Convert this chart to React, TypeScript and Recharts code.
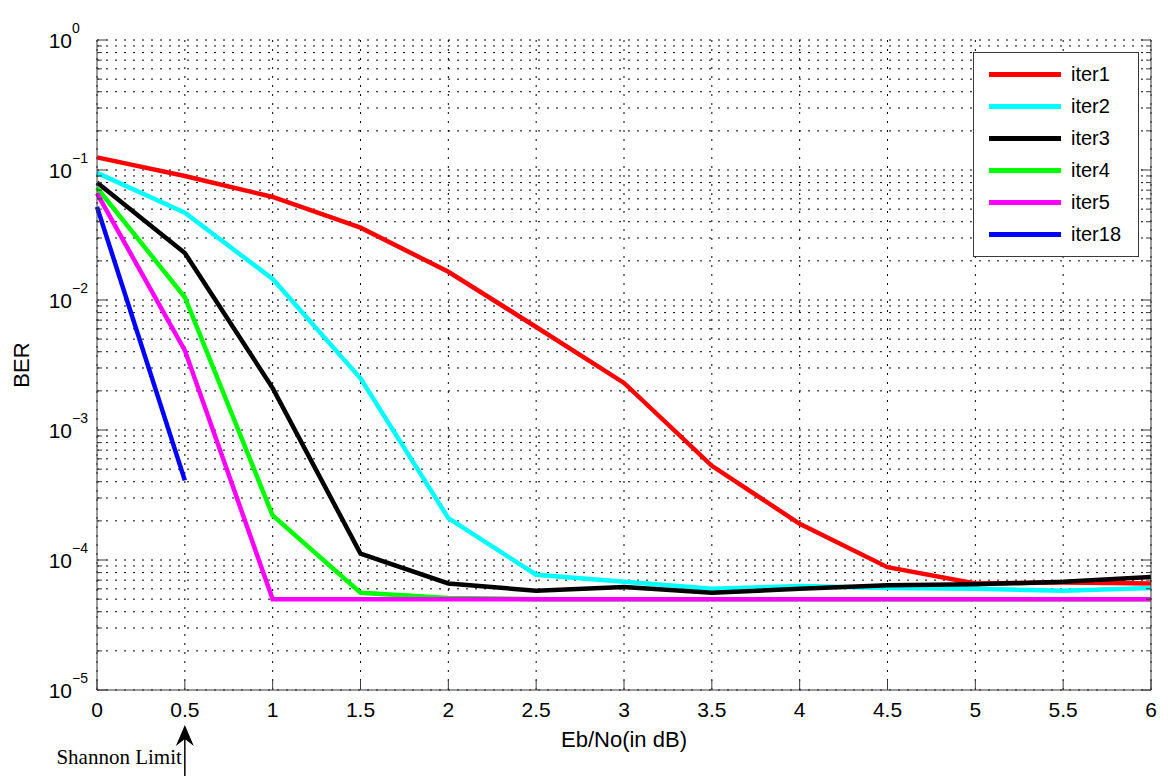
import { CartesianGrid, Legend, Line, LineChart, XAxis, YAxis } from "recharts";

// Eb/No values (dB) on the x axis
const ebNo = [0, 0.5, 1, 1.5, 2, 2.5, 3, 3.5, 4, 4.5, 5, 5.5, 6];

// BER per decoder iteration
const iter1 = [0.125, 0.09, 0.062, 0.036, 0.0165, 0.0062, 0.0023, 0.00053, 0.00019, 0.000088, 0.000066, 0.000067, 0.000066];
const iter2 = [0.095, 0.047, 0.0145, 0.0025, 0.00021, 0.000077, 0.000068, 0.00006, 0.000063, 0.000061, 0.00006, 0.000058, 0.000061];
const iter3 = [0.08, 0.023, 0.0021, 0.000112, 0.000066, 0.000058, 0.000062, 0.000056, 0.00006, 0.000064, 0.000065, 0.000068, 0.000074];
const iter4 = [0.073, 0.0105, 0.00022, 0.000056, 0.000051, 0.00005, 0.00005, 0.00005, 0.00005, 0.00005, 0.00005, 0.00005, 0.00005];
const iter5 = [0.066, 0.0041, 0.00005, 0.00005, 0.00005, 0.00005, 0.00005, 0.00005, 0.00005, 0.00005, 0.00005, 0.00005, 0.00005];
const iter18 = [0.052, 0.00041];

const xTicks = [0, 0.5, 1, 1.5, 2, 2.5, 3, 3.5, 4, 4.5, 5, 5.5, 6];
const decades = [1e-5, 1e-4, 1e-3, 1e-2, 1e-1, 1];
const mantissas = [1, 2, 3, 4, 5, 6, 7, 8, 9];

const series = [
  { key: "iter1", values: iter1, color: "#ff0000" },
  { key: "iter2", values: iter2, color: "#00ffff" },
  { key: "iter3", values: iter3, color: "#000000" },
  { key: "iter4", values: iter4, color: "#00ff00" },
  { key: "iter5", values: iter5, color: "#ff00ff" },
  { key: "iter18", values: iter18, color: "#0000ff" },
];

const yTicks = [
  ...decades.slice(0, -1).flatMap((d) => mantissas.map((m) => m * d)),
  1,
];

const data = ebNo.map((x, i) => {
  const row: Record<string, number | undefined> = { x };
  series.forEach((s) => {
    row[s.key] = s.values[i];
  });
  return row;
});

const FONT = '"Liberation Sans", Arial, Helvetica, sans-serif';
const AXIS = "#3a3a3a";

function isDecade(v: number) {
  const l = Math.log10(v);
  return Math.abs(l - Math.round(l)) < 1e-6;
}

function LeftTick(props: any) {
  const { x, y, payload } = props;
  const v = payload.value as number;
  const major = isDecade(v);
  const exp = Math.round(Math.log10(v));
  return (
    <g>
      <line x1={x} y1={y} x2={x + (major ? 10 : 5)} y2={y} stroke={AXIS} />
      {major && (
        <g fontFamily={FONT} fill="#000">
          <text x={x - 25} y={y} textAnchor="end" dominantBaseline="central" fontSize={21}>
            10
          </text>
          <text x={x - 25} y={y - 12} dominantBaseline="central" fontSize={14}>
            {exp === 0 ? "0" : "\u2212" + -exp}
          </text>
        </g>
      )}
    </g>
  );
}

function RightTick(props: any) {
  const { x, y, payload } = props;
  const major = isDecade(payload.value);
  return <line x1={x} y1={y} x2={x - (major ? 10 : 5)} y2={y} stroke={AXIS} />;
}

function TopTick(props: any) {
  const { x, y } = props;
  return <line x1={x} y1={y} x2={x} y2={y + 10} stroke={AXIS} />;
}

function BottomTick(props: any) {
  const { x, y, payload } = props;
  const v = payload.value as number;
  return (
    <g>
      <line x1={x} y1={y} x2={x} y2={y - 10} stroke={AXIS} />
      <text
        x={x}
        y={y + 19}
        textAnchor="middle"
        dominantBaseline="central"
        fontSize={21}
        fontFamily={FONT}
        fill="#000"
      >
        {String(v)}
      </text>
      {v === 0.5 && (
        <g>
          <line x1={x} y1={y + 45} x2={x} y2={y + 90} stroke="#000" strokeWidth={1.5} />
          <polygon
            points={`${x},${y + 35} ${x - 9},${y + 56} ${x},${y + 49} ${x + 9},${y + 56}`}
            fill="#000"
          />
          <text
            x={x - 3}
            y={y + 67}
            textAnchor="end"
            dominantBaseline="central"
            fontSize={21}
            fontFamily='"Liberation Serif", "Times New Roman", serif'
            fill="#000"
          >
            Shannon Limit
          </text>
        </g>
      )}
    </g>
  );
}

function LegendBox(props: any) {
  const order = series.map((s) => s.key);
  const items = [...((props.payload || []) as any[])].sort(
    (a, b) => order.indexOf(a.value) - order.indexOf(b.value)
  );
  return (
    <div
      style={{
        width: 164,
        height: 198,
        border: `1px solid ${AXIS}`,
        background: "#fff",
        paddingTop: 5,
        boxSizing: "content-box",
        fontFamily: FONT,
      }}
    >
      {items.map((it) => (
        <div key={it.value} style={{ display: "flex", alignItems: "center", height: 32 }}>
          <div style={{ width: 72, height: 5, background: it.color, marginLeft: 15, marginRight: 10 }} />
          <span style={{ fontSize: 20, color: "#000", lineHeight: "20px" }}>{it.value}</span>
        </div>
      ))}
    </div>
  );
}

export default function App() {
  return (
    <div style={{ position: "absolute", left: 0, top: 0, background: "#fff" }}>
      <LineChart
        width={1169}
        height={776}
        data={data}
        margin={{ top: 40, right: 17, bottom: 26, left: 7 }}
      >
        <CartesianGrid stroke="#000" strokeDasharray="2 7" strokeWidth={1} />
        <XAxis
          dataKey="x"
          type="number"
          domain={[0, 6]}
          ticks={xTicks}
          interval={0}
          height={60}
          tickSize={0}
          tickMargin={0}
          tickLine={false}
          axisLine={{ stroke: AXIS }}
          tick={<BottomTick />}
          label={{
            value: "Eb/No(in dB)",
            position: "insideBottom",
            offset: 3,
            fontSize: 22,
            fill: "#000",
            fontFamily: FONT,
          }}
        />
        <XAxis
          xAxisId="top"
          dataKey="x"
          orientation="top"
          type="number"
          domain={[0, 6]}
          ticks={xTicks}
          interval={0}
          height={0}
          tickSize={0}
          tickMargin={0}
          tickLine={false}
          axisLine={{ stroke: AXIS }}
          tick={<TopTick />}
          label={{
            value: "Turbo Codes Performance",
            position: "top",
            offset: 15,
            fontSize: 21,
            fill: "#000",
            fontFamily: FONT,
            letterSpacing: 1,
          }}
        />
        <YAxis
          type="number"
          scale="log"
          domain={[1e-5, 1]}
          allowDataOverflow
          ticks={yTicks}
          interval={0}
          width={90}
          tickSize={0}
          tickMargin={0}
          tickLine={false}
          axisLine={{ stroke: AXIS }}
          tick={<LeftTick />}
          label={{
            value: "BER",
            angle: -90,
            position: "insideLeft",
            offset: 14,
            fontSize: 22,
            fill: "#000",
            fontFamily: FONT,
            style: { textAnchor: "middle" },
          }}
        />
        <YAxis
          yAxisId="right"
          orientation="right"
          type="number"
          scale="log"
          domain={[1e-5, 1]}
          allowDataOverflow
          ticks={yTicks}
          interval={0}
          width={1}
          tickSize={0}
          tickMargin={0}
          tickLine={false}
          axisLine={{ stroke: AXIS }}
          tick={<RightTick />}
        />
        <Legend
          layout="vertical"
          align="center"
          verticalAlign="middle"
          content={<LegendBox />}
          wrapperStyle={{ left: 973, top: 52, width: 166, height: 204 }}
        />
        {series.map((s) => (
          <Line
            key={s.key}
            dataKey={s.key}
            name={s.key}
            type="linear"
            stroke={s.color}
            strokeWidth={4.5}
            dot={false}
            activeDot={false}
            isAnimationActive={false}
          />
        ))}
      </LineChart>
    </div>
  );
}
